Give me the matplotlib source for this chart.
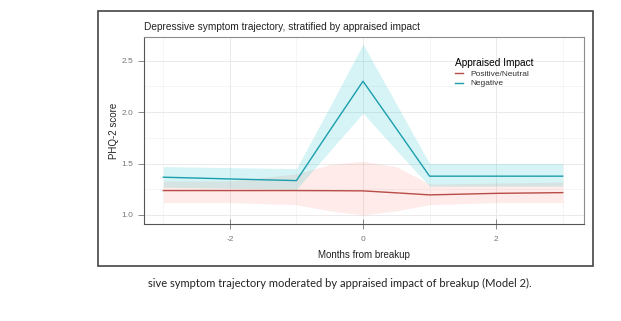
import matplotlib.pyplot as plt
from matplotlib.patches import Rectangle
from matplotlib.ticker import MultipleLocator

plt.rcParams['font.family'] = ['Liberation Sans', 'DejaVu Sans']
plt.rcParams['axes.unicode_minus'] = False

# months relative to breakup
months = [-3, -2, -1, -0.5, 0, 0.5, 1, 2, 3]

# Positive/Neutral group
pos_mean = [1.237, 1.237, 1.237, 1.236, 1.234, 1.215, 1.195, 1.21, 1.217]
pos_low = [1.12, 1.12, 1.10, 1.04, 1.00, 1.04, 1.10, 1.12, 1.12]
pos_high = [1.33, 1.33, 1.40, 1.49, 1.52, 1.47, 1.30, 1.31, 1.32]

# Negative group
neg_mean = [1.367, 1.35, 1.334, 1.82, 2.30, 1.84, 1.377, 1.377, 1.377]
neg_low = [1.27, 1.26, 1.25, 1.62, 1.99, 1.63, 1.28, 1.28, 1.28]
neg_high = [1.47, 1.46, 1.45, 2.05, 2.66, 2.08, 1.50, 1.50, 1.50]

red = '#b84c47'
cyan = '#1a9eac'

fig = plt.figure(figsize=(6.21, 3.21), dpi=100)
fig.patch.set_facecolor('white')

W, H = 621, 321
ax = fig.add_axes([144 / W, 1 - 224 / H, (584 - 144) / W, (224 - 37) / H])

ax.fill_between(months, pos_low, pos_high, color='#F8766D', alpha=0.14, lw=0)
ax.fill_between(months, neg_low, neg_high, color='#00BFC4', alpha=0.16, lw=0)
ax.plot(months, pos_mean, color=red, lw=1.0, label='Positive/Neutral')
ax.plot(months, neg_mean, color=cyan, lw=1.0, label='Negative')

ax.set_xlim(-3.29, 3.32)
ax.set_ylim(0.912, 2.73)
ax.xaxis.set_major_locator(MultipleLocator(2))
ax.xaxis.set_minor_locator(MultipleLocator(1))
ax.yaxis.set_major_locator(MultipleLocator(0.5))
ax.yaxis.set_minor_locator(MultipleLocator(0.25))
ax.grid(which='major', color='#e6e6e6', lw=0.6)
ax.grid(which='minor', color='#f2f2f2', lw=0.5)
ax.set_axisbelow(True)

for s in ax.spines.values():
    s.set_color('#8c8c8c')
    s.set_linewidth(0.8)
ax.spines['left'].set_color('#555555')
ax.spines['bottom'].set_color('#555555')

ax.tick_params(which='major', labelsize=6, labelcolor='#777777', color='#777777',
               length=4, width=0.6)
ax.tick_params(which='minor', length=0)
ax.tick_params(axis='x', direction='inout', length=7, pad=5)
ax.yaxis.set_major_formatter(plt.FuncFormatter(lambda v, p: f'{v:.1f}'))

ax.set_xlabel('Months from breakup', fontsize=7, color='#222222', labelpad=5)
ax.set_ylabel('PHQ-2 score', fontsize=7, color='#222222', labelpad=2)
ax.set_title('Depressive symptom trajectory, stratified by appraised impact',
             fontsize=7.3, color='#222222', loc='left', x=0, pad=5)

leg = ax.legend(title='Appraised Impact', loc='upper left',
                bbox_to_anchor=(0.69, 0.93), frameon=False, fontsize=6,
                title_fontsize=7.3, handlelength=1.0, handletextpad=0.8,
                labelspacing=0.25)
leg._legend_box.align = 'left'
for t in leg.get_texts():
    t.set_color('#333333')

# outer frame around the figure panel
fig.patches.append(Rectangle((98 / W, 1 - 266 / H), (593 - 98) / W, (266 - 11) / H,
                             transform=fig.transFigure, fill=False,
                             edgecolor='#444444', lw=1.2))

fig.text(148 / W, 1 - 283 / H,
         'sive symptom trajectory moderated by appraised impact of breakup (Model 2).',
         fontsize=8, family='Lato', color='#222222', va='center')

fig.savefig('out.png', dpi=100)
